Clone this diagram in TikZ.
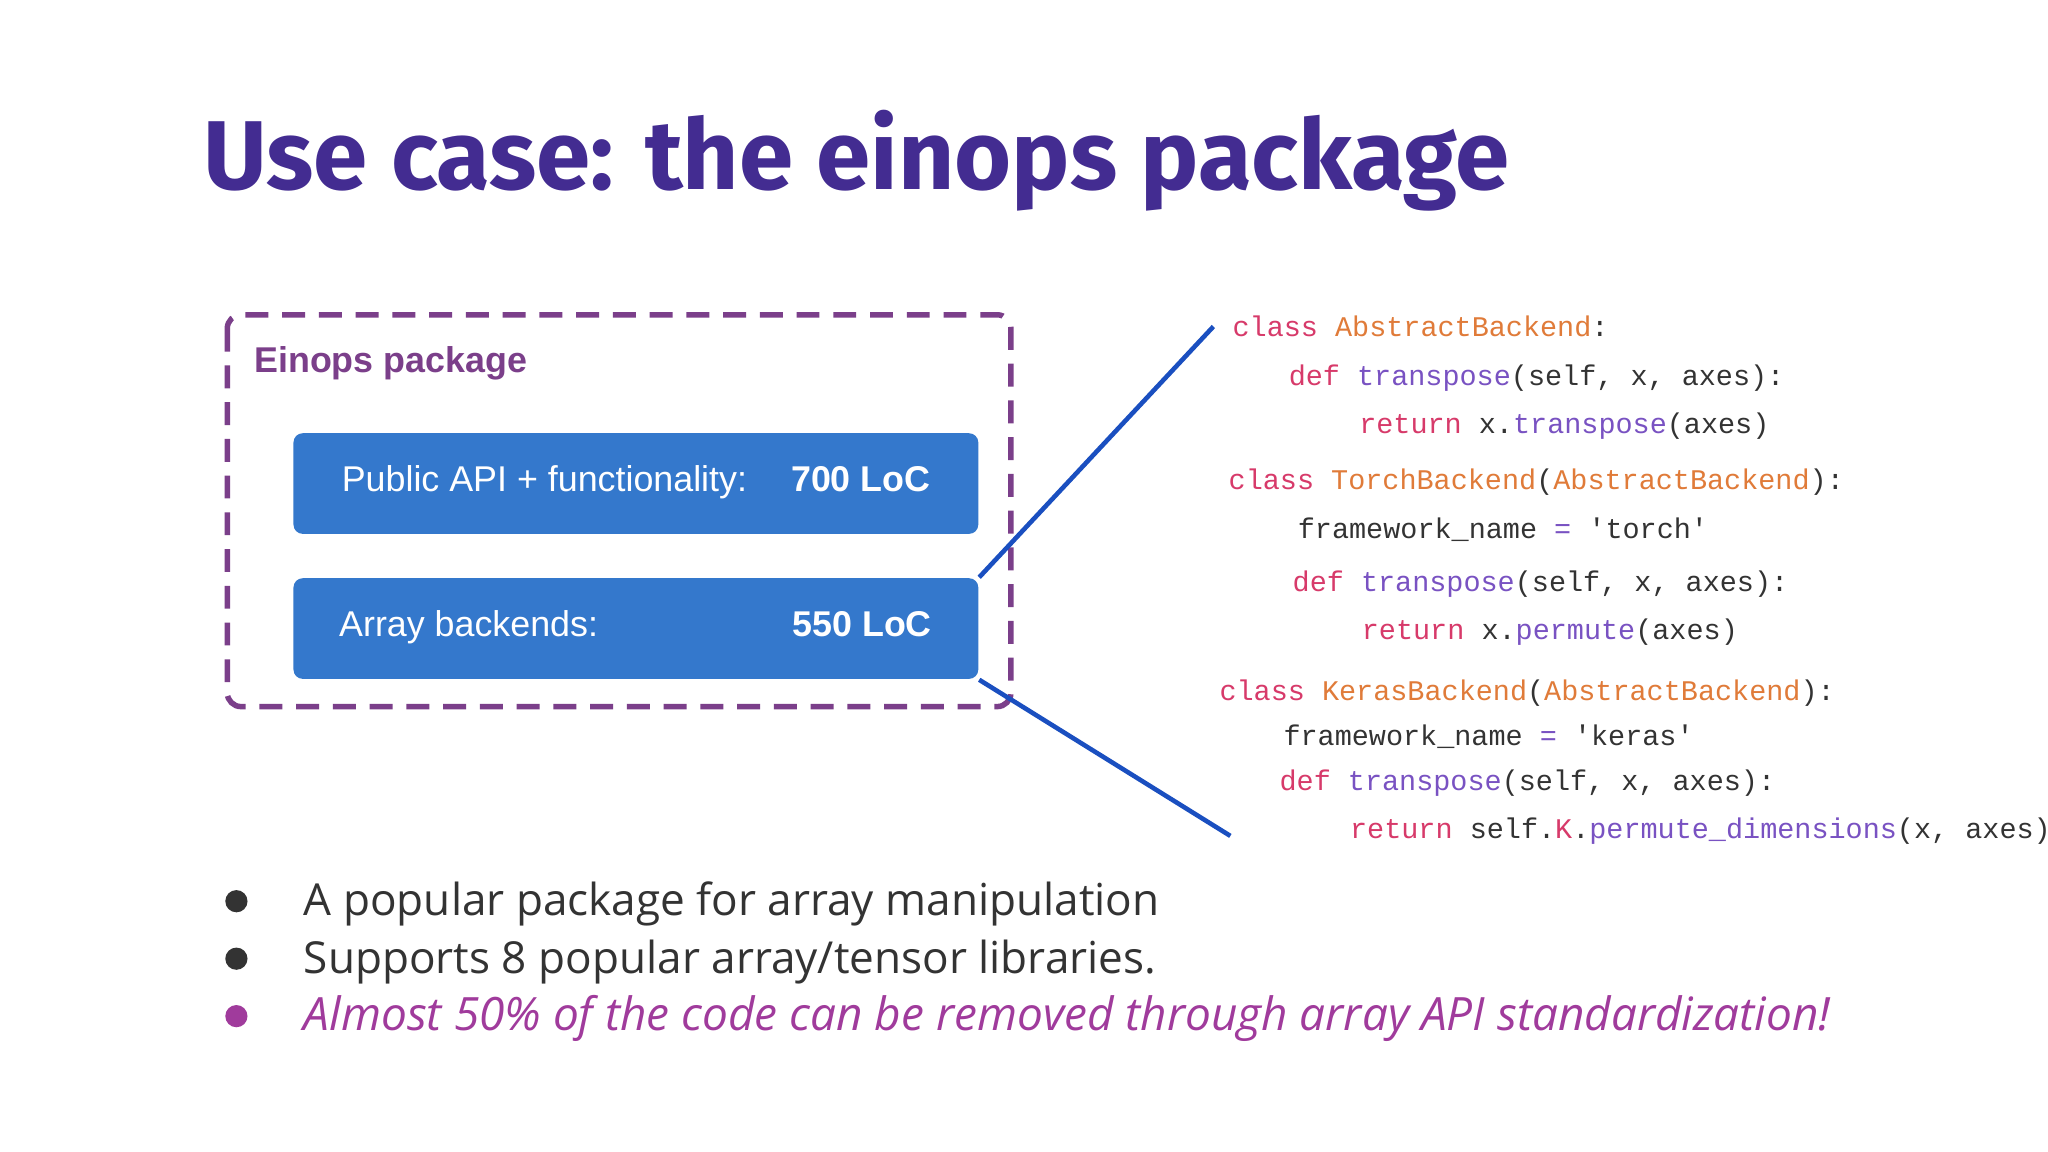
\documentclass[tikz,border=0pt]{standalone}
\usepackage{fontspec}
\setmainfont{Open Sans}
\newfontfamily\titlef{Fira Sans}
\newfontfamily\arialf{Liberation Sans}
\newfontfamily\codef{Liberation Mono}
\definecolor{titlec}{HTML}{432C91}
\definecolor{dashc}{HTML}{7B3F8A}
\definecolor{boxc}{HTML}{3478CC}
\definecolor{linec}{HTML}{1A4FC0}
\definecolor{kwc}{HTML}{D73A6A}
\definecolor{cnc}{HTML}{E07B39}
\definecolor{fnc}{HTML}{7952C2}
\definecolor{txc}{HTML}{333333}
\definecolor{emc}{HTML}{A03B9C}
\newcommand{\kw}[1]{\textcolor{kwc}{#1}}
\newcommand{\cn}[1]{\textcolor{cnc}{#1}}
\newcommand{\fn}[1]{\textcolor{fnc}{#1}}
\newcommand{\q}{\symbol{39}}
\begin{document}
\begin{tikzpicture}[x=0.01cm,y=-0.01cm,
  code/.style={anchor=base west,inner sep=0,font=\codef\fontsize{6.2pt}{7pt}\selectfont,text=txc},
  blue/.style={fill=boxc,rounded corners=2pt,draw=none},
  btext/.style={anchor=base west,inner sep=0,text=white,font=\arialf\fontsize{7.8pt}{9pt}\selectfont},
  bul/.style={anchor=base west,inner sep=0,text=txc,font=\fontsize{9.6pt}{12pt}\selectfont},
  dot/.style={circle,fill=#1,inner sep=0,minimum size=0.17cm}]
\useasboundingbox (0,0) rectangle (1568,882);
\fill[white] (0,0) rectangle (1568,882);
\node[anchor=base west,inner sep=0,text=titlec,font=\titlef\bfseries\fontsize{21.3pt}{26pt}\selectfont] (title) at (155,145) {Use case: the einops package};
\draw[dashc,line width=1.2pt,dash pattern=on 5pt off 3pt,rounded corners=3pt] (174,241) rectangle (774,541);
\node[anchor=base west,inner sep=0,text=dashc,font=\arialf\bfseries\fontsize{7.8pt}{9pt}\selectfont] (pkg) at (194,285) {Einops package};
\node[blue,minimum width=5.24cm,minimum height=0.77cm,anchor=north west] (b1) at (224,331) {};
\node[blue,minimum width=5.24cm,minimum height=0.77cm,anchor=north west] (b2) at (224,442) {};
\node[btext] (t1) at (261,376) {Public API + functionality:};
\node[btext,font=\arialf\bfseries\fontsize{7.8pt}{9pt}\selectfont] (l1) at (605,376) {700 LoC};
\node[btext] (t2) at (259,487) {Array backends:};
\node[btext,font=\arialf\bfseries\fontsize{7.8pt}{9pt}\selectfont] (l2) at (606,487) {550 LoC};
\coordinate (c1) at (929,250);
\coordinate (c2) at (942,640);
\draw[linec,line width=1pt] (b2.north east) -- (c1);
\draw[linec,line width=1pt] (b2.south east) -- (c2);
\node[code] (k1) at (943,258) {\kw{class} \cn{AbstractBackend}:};
\node[code] (k2) at (986,295) {\kw{def} \fn{transpose}(self, x, axes):};
\node[code] (k3) at (1040,332) {\kw{return} x.\fn{transpose}(axes)};
\node[code] (k4) at (940,375) {\kw{class} \cn{TorchBackend}(\cn{AbstractBackend}):};
\node[code] (k5) at (993,412) {framework\_name \fn{=} \q torch\q};
\node[code] (k6) at (989,453) {\kw{def} \fn{transpose}(self, x, axes):};
\node[code] (k7) at (1042,490) {\kw{return} x.\fn{permute}(axes)};
\node[code] (k8) at (933,536) {\kw{class} \cn{KerasBackend}(\cn{AbstractBackend}):};
\node[code] (k9) at (982,571) {framework\_name \fn{=} \q keras\q};
\node[code] (k10) at (979,605) {\kw{def} \fn{transpose}(self, x, axes):};
\node[code] (k11) at (1033,642) {\kw{return} self.\kw{K}.\fn{permute\_dimensions}(x, axes)};
\node[dot=txc] (d1) at (181,690) {};
\node[dot=txc] (d2) at (181,734) {};
\node[dot=emc] (d3) at (181,778) {};
\node[bul] (s1) at (232,701) {A popular package for array manipulation};
\node[bul] (s2) at (232,745) {Supports 8 popular array/tensor libraries.};
\node[bul,text=emc,font=\itshape\fontsize{10pt}{12pt}\selectfont] (s3) at (232,789) {Almost 50\% of the code can be removed through array API standardization!};
\end{tikzpicture}
\end{document}
